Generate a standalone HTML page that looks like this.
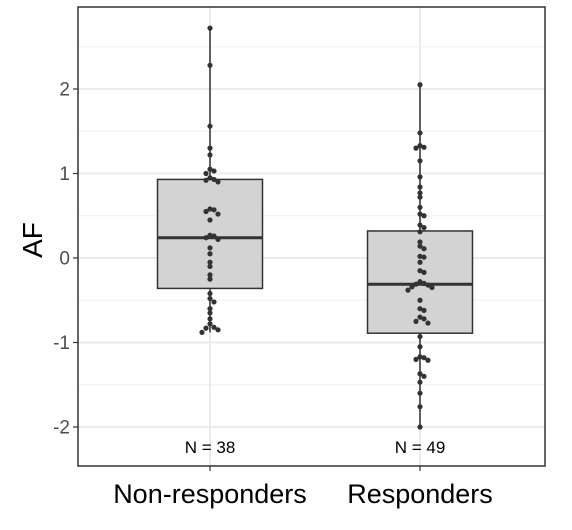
<!DOCTYPE html>
<html><head><meta charset="utf-8"><style>
html,body{margin:0;padding:0;background:#fff;}
svg{display:block;font-family:"Liberation Sans",sans-serif;}
</style></head><body>
<svg id="chart" width="572" height="530"></svg>
<script>
const categories = ["Non-responders","Responders"];
const counts = ["N = 38","N = 49"];
const boxQ1 = [-0.36,-0.89];
const boxMed = [0.24,-0.31];
const boxQ3 = [0.93,0.32];
const whiskLo = [-0.88,-2.0];
const whiskHi = [2.72,2.04];
const pts0 = [2.72,2.28,1.56,1.30,1.22,1.05,1.03,1.0,0.95,0.93,0.92,0.90,0.58,0.57,0.55,0.52,0.45,0.27,0.26,0.24,0.22,0.12,0.05,-0.05,-0.10,-0.20,-0.25,-0.42,-0.48,-0.52,-0.60,-0.65,-0.72,-0.78,-0.82,-0.83,-0.85,-0.88];
const pts1 = [2.05,1.48,1.33,1.31,1.30,1.15,0.96,0.84,0.77,0.72,0.60,0.52,0.50,0.39,0.36,0.31,0.19,0.14,0.11,0.02,0.01,-0.05,-0.15,-0.17,-0.28,-0.30,-0.31,-0.32,-0.34,-0.35,-0.38,-0.50,-0.60,-0.62,-0.70,-0.72,-0.75,-0.77,-0.93,-1.05,-1.17,-1.18,-1.20,-1.21,-1.37,-1.40,-1.47,-1.60,-1.76,-2.0];
const yTicks = [-2,-1,0,1,2];
const points = [pts0, pts1];

const NS="http://www.w3.org/2000/svg";
const svg=document.getElementById('chart');
const L=78,R=545,T=7,B=466;
const y=v=>258-v*84.5;
const x=i=>210+i*210;
function mk(tag,attrs,parent){const e=document.createElementNS(NS,tag);for(const k in attrs)e.setAttribute(k,attrs[k]);(parent||svg).appendChild(e);return e;}

const bg=mk('rect',{x:L,y:T,width:R-L,height:B-T,fill:'#fff'});


for(let v=-2.5;v<=2.5;v+=1){const yy=y(v);if(yy<T||yy>B)continue;
 const g=mk('line',{x1:L,x2:R,y1:yy,y2:yy,stroke:'#f0f0f0','stroke-width':1});
 
 }
yTicks.forEach(v=>{const g=mk('line',{x1:L,x2:R,y1:y(v),y2:y(v),stroke:'#ebebeb','stroke-width':2});
 
 
 const tk=mk('line',{x1:L-5,x2:L,y1:y(v),y2:y(v),stroke:'#333','stroke-width':1.2});
 
 
 const t=mk('text',{x:L-8,y:y(v)+6.5,'text-anchor':'end','font-size':19,fill:'#4d4d4d'});t.textContent=v;
 
 });
categories.forEach((c,i)=>{const g=mk('line',{x1:x(i),x2:x(i),y1:T,y2:B,stroke:'#ebebeb','stroke-width':2});
 
 });
categories.forEach((c,i)=>{
 const cx=x(i),w=105;
 const wl=mk('line',{x1:cx,x2:cx,y1:y(whiskHi[i]),y2:y(whiskLo[i]),stroke:'#333','stroke-width':1.5});
 
 
 const bx=mk('rect',{x:cx-w/2,y:y(boxQ3[i]),width:w,height:y(boxQ1[i])-y(boxQ3[i]),fill:'#d3d3d3',stroke:'#333','stroke-width':1.5});
 
 
 const md=mk('line',{x1:cx-w/2,x2:cx+w/2,y1:y(boxMed[i]),y2:y(boxMed[i]),stroke:'#333','stroke-width':3});
 
 
 const pts=points[i].slice().sort((a,b)=>b-a);let prev=null,k=0;
 pts.forEach(v=>{ if(prev!==null&&Math.abs(prev-v)<0.045){k++;}else k=0; prev=v;
  const off=k===0?0:(k%2?1:-1)*Math.ceil(k/2)*4;
  const p=mk('circle',{cx:cx+off,cy:y(v),r:2.6,fill:'#333'});
  
  });
 const n=mk('text',{x:cx,y:453,'text-anchor':'middle','font-size':17,fill:'#000'});n.textContent=counts[i];
 
 
 const tk=mk('line',{x1:cx,x2:cx,y1:B,y2:B+5,stroke:'#333','stroke-width':1.2});
 
 
 const xl=mk('text',{x:cx,y:503,'text-anchor':'middle','font-size':27,fill:'#000'});xl.textContent=c;
 
 
});
const fr=mk('rect',{x:L,y:T,width:R-L,height:B-T,fill:'none',stroke:'#333','stroke-width':1.5});


const yt=mk('text',{x:0,y:0,transform:'translate(42,240) rotate(-90)','text-anchor':'middle','font-size':28,fill:'#000'});yt.textContent='AF';


</script>
</body></html>
